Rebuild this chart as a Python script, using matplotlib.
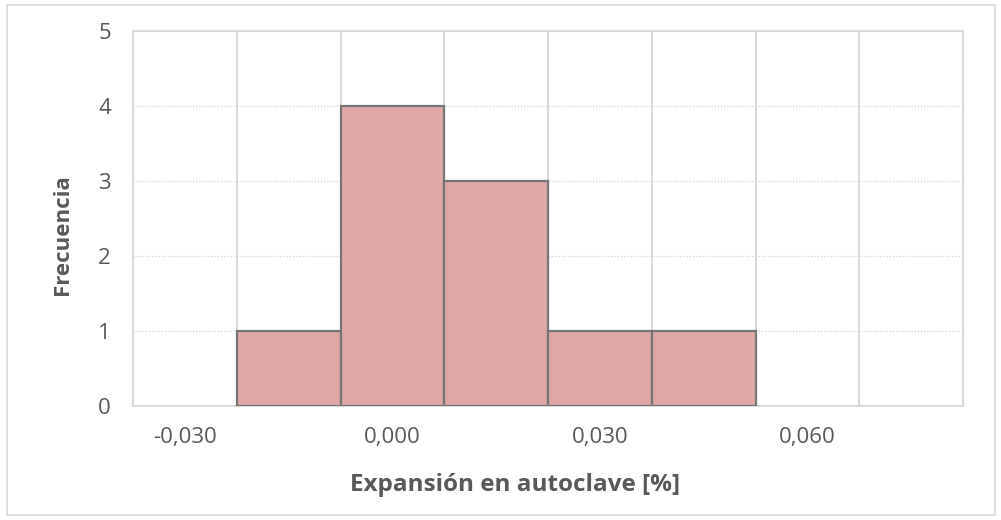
import matplotlib
matplotlib.use("Agg")
import matplotlib.pyplot as plt
from matplotlib.patches import Rectangle
import numpy as np

plt.rcParams['font.family'] = ['Open Sans', 'DejaVu Sans']

# Data
categories = [-0.030, -0.015, 0.000, 0.015, 0.030, 0.045, 0.060, 0.075]
frequencies = [0, 1, 4, 3, 1, 1, 0, 0]
shown_labels = ["-0,030", "", "0,000", "", "0,030", "", "0,060", ""]
y_ticks = [0, 1, 2, 3, 4, 5]

W, H = 1001, 520
fig = plt.figure(figsize=(W / 100, H / 100), dpi=100)
fig.patch.set_facecolor('white')

# chart border
fig.patches.append(Rectangle((7 / W, 5 / H), (995 - 7) / W, (515 - 5) / H,
                             transform=fig.transFigure, fill=False,
                             edgecolor='#D9D9D9', linewidth=1.2))

left, right, top, bottom = 133, 963, 31, 406
ax = fig.add_axes([left / W, 1 - bottom / H, (right - left) / W, (bottom - top) / H])

x = np.arange(len(categories))
freqs = np.array(frequencies)
mask = freqs > 0
ax.bar(x[mask], freqs[mask], width=1.0, color='#E0A7A7',
       edgecolor='#767676', linewidth=1.6, zorder=3)

ax.set_xlim(-0.5, len(categories) - 0.5)
ax.set_ylim(0, 5)
ax.set_yticks(y_ticks)
ax.set_yticklabels([str(v) for v in y_ticks])
ax.set_xticks(x)
ax.set_xticklabels(shown_labels)
ax.set_xticks(np.arange(0.5, len(categories) - 0.5, 1.0), minor=True)

ax.tick_params(axis='both', which='both', length=0, colors='#595959', labelsize=16)
ax.tick_params(axis='x', pad=15)
ax.tick_params(axis='y', pad=16)

ax.grid(axis='y', which='major', color='#D0D0D0', linestyle=(0, (1, 1.5)), linewidth=0.9, zorder=0)
ax.grid(axis='x', which='minor', color='#D9D9D9', linestyle='-', linewidth=1.4, zorder=0)
ax.grid(axis='x', which='major', visible=False)

for s in ax.spines.values():
    s.set_color('#D9D9D9')
    s.set_linewidth(1.4)
ax.set_axisbelow(True)

fig.text(515 / W, 1 - 485 / H, "Expansión en autoclave [%]", ha='center', va='center',
         fontsize=17.5, fontweight='bold', color='#595959')
fig.text(62 / W, 1 - 235 / H, "Frecuencia", ha='center', va='center', rotation=90,
         fontsize=16, fontweight='bold', color='#595959')

fig.savefig("out.png", dpi=100, facecolor='white')
